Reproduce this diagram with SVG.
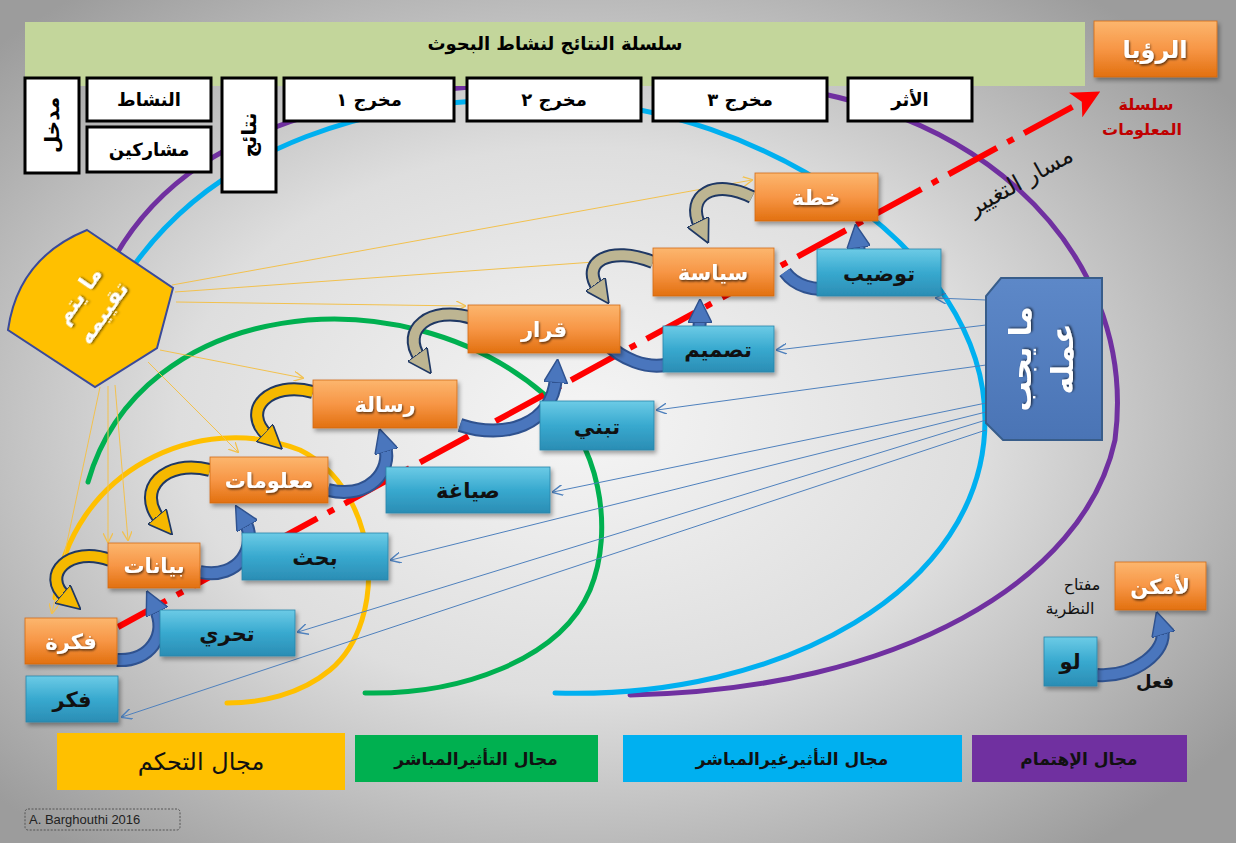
<svg xmlns="http://www.w3.org/2000/svg" width="1236" height="843" viewBox="0 0 1236 843">
<defs>
<radialGradient id="bg" cx="0.47" cy="0.5" r="0.65">
<stop offset="0" stop-color="#f5f5f5"/><stop offset="0.5" stop-color="#dedede"/><stop offset="1" stop-color="#9c9c9c"/>
</radialGradient>
<linearGradient id="og" x1="0" y1="0" x2="0" y2="1">
<stop offset="0" stop-color="#fcb66e"/><stop offset="0.5" stop-color="#f79646"/><stop offset="1" stop-color="#e2700f"/>
</linearGradient>
<linearGradient id="bgr" x1="0" y1="0" x2="0" y2="1">
<stop offset="0" stop-color="#6ccbe6"/><stop offset="0.5" stop-color="#38a9cf"/><stop offset="1" stop-color="#2b8db4"/>
</linearGradient>
<linearGradient id="mg" x1="0" y1="0" x2="0" y2="1">
<stop offset="0" stop-color="#5d88c8"/><stop offset="1" stop-color="#4a74b5"/>
</linearGradient>
<filter id="sh" x="-10%" y="-10%" width="130%" height="140%"><feDropShadow dx="2" dy="3" stdDeviation="2" flood-color="#000" flood-opacity="0.35"/></filter>
<filter id="tsh" x="-10%" y="-20%" width="130%" height="150%"><feDropShadow dx="1" dy="1.5" stdDeviation="1" flood-color="#000" flood-opacity="0.65"/></filter>
<marker id="hb" viewBox="0 0 20 20" markerUnits="userSpaceOnUse" markerWidth="24" markerHeight="24" refX="4" refY="10" orient="auto"><path d="M0,0 L20,10 L0,20 z" fill="#4a76bd" stroke="#2f528f" stroke-width="1.2"/></marker>
<marker id="ht" viewBox="0 0 20 20" markerUnits="userSpaceOnUse" markerWidth="24" markerHeight="24" refX="4" refY="10" orient="auto"><path d="M0,0 L20,10 L0,20 z" fill="#bdb592" stroke="#1f3864" stroke-width="1.4"/></marker>
<marker id="hy" viewBox="0 0 20 20" markerUnits="userSpaceOnUse" markerWidth="24" markerHeight="24" refX="4" refY="10" orient="auto"><path d="M0,0 L20,10 L0,20 z" fill="#f5b800" stroke="#1f3864" stroke-width="1.4"/></marker>
<marker id="hr" viewBox="0 0 20 20" markerUnits="userSpaceOnUse" markerWidth="28" markerHeight="28" refX="6" refY="10" orient="auto"><path d="M0,0 L20,10 L0,20 L5,10 z" fill="#ff0000"/></marker>
<marker id="tb" viewBox="0 0 10 10" markerUnits="userSpaceOnUse" markerWidth="11" markerHeight="11" refX="9" refY="5" orient="auto"><path d="M0,0 L10,5 L0,10" fill="none" stroke="#4f81bd" stroke-width="1.3"/></marker>
<marker id="ty" viewBox="0 0 10 10" markerUnits="userSpaceOnUse" markerWidth="10" markerHeight="10" refX="9" refY="5" orient="auto"><path d="M0,0 L10,5 L0,10" fill="none" stroke="#f2c14e" stroke-width="1.3"/></marker>
</defs>
<style>
.box{fill:#fff;stroke:#000;stroke-width:3}
.ob{fill:url(#og);stroke:#d36b12;stroke-width:0.8;filter:url(#sh)}
.bb{fill:url(#bgr);stroke:#2a86aa;stroke-width:0.8;filter:url(#sh)}
.ot{font-family:"DejaVu Sans","Noto Sans",sans-serif;font-weight:bold;font-size:21px;fill:#fff;text-anchor:middle;filter:url(#tsh)}
.bt{font-family:"DejaVu Sans","Noto Sans",sans-serif;font-weight:bold;font-size:21px;fill:#111;text-anchor:middle}
.hd{font-family:"DejaVu Sans","Noto Sans",sans-serif;font-weight:bold;font-size:18px;fill:#000;text-anchor:middle}
.lg{font-family:"DejaVu Sans","Noto Sans",sans-serif;font-weight:bold;font-size:17px;fill:#111;text-anchor:middle}
.arc{fill:none;stroke-width:5;stroke-linecap:round}
.bo{fill:none;stroke:#2f528f;stroke-width:14}
.bi{fill:none;stroke:#4a76bd;stroke-width:10;marker-end:url(#hb)}
.to{fill:none;stroke:#1f3864;stroke-width:14}
.ti{fill:none;stroke:#bdb592;stroke-width:10;marker-end:url(#ht)}
.yi{fill:none;stroke:#f5b800;stroke-width:10;marker-end:url(#hy)}
.tl{fill:none;stroke:#4f81bd;stroke-width:1;marker-end:url(#tb)}
.yl{fill:none;stroke:#f2c14e;stroke-width:1;marker-end:url(#ty)}
</style>
<rect width="1236" height="843" fill="url(#bg)"/>

<g id="arcs">
<path class="arc" stroke="#7030a0" d="M112,262 C200,100 420,75 700,82 C970,80 1140,250 1115,440 C1085,580 900,690 630,695"/>
<path class="arc" stroke="#00b0f0" d="M132,268 C215,150 370,92 560,100 C760,108 985,250 985,420 C985,590 780,700 555,693"/>
<path class="arc" stroke="#00b050" d="M88,482 C140,300 400,270 545,395 C600,440 615,530 590,590 C560,660 460,695 365,693"/>
<path class="arc" stroke="#ffc000" d="M55,598 C70,470 200,410 300,450 C380,490 390,620 330,670 C300,695 260,703 227,703"/>
</g>

<g id="change-path">
<path d="M118,627 L1083,101" fill="none" stroke="#ff0000" stroke-width="6" stroke-dasharray="55 12 7 12" marker-end="url(#hr)"/>
<text x="1024" y="188" transform="rotate(-29 1024 188)" font-family="DejaVu Sans, sans-serif" font-size="23" fill="#111" text-anchor="middle">مسار التغيير</text>
<text x="1146" y="110" font-family="DejaVu Sans, sans-serif" font-weight="bold" font-size="16" fill="#c00000" text-anchor="middle">سلسلة</text>
<text x="1142" y="135" font-family="DejaVu Sans, sans-serif" font-weight="bold" font-size="16" fill="#c00000" text-anchor="middle">المعلومات</text>
</g>

<g id="connectors">
<path class="tl" d="M986,300 L936,298"/>
<path class="tl" d="M986,325 L777,350"/>
<path class="tl" d="M986,365 L657,410"/>
<path class="tl" d="M986,403 L553,492"/>
<path class="tl" d="M986,412 L391,560"/>
<path class="tl" d="M986,420 L298,632"/>
<path class="tl" d="M986,430 L122,717"/>
<path class="yl" d="M172,285 L752,180"/>
<path class="yl" d="M175,292 L650,258"/>
<path class="yl" d="M176,302 L465,306"/>
<path class="yl" d="M160,350 L303,378"/>
<path class="yl" d="M148,362 L238,452"/>
<path class="yl" d="M115,385 L128,540"/>
<path class="yl" d="M100,387 L52,613"/>
<path class="yl" d="M108,386 L108,542"/>
<path class="bo" d="M117,660 C150,662 168,635 155,608"/><path class="bi" d="M117,660 C150,662 168,635 155,608"/>
<path class="bo" d="M200,572 C240,580 258,545 245,522"/><path class="bi" d="M200,572 C240,580 258,545 245,522"/>
<path class="bo" d="M328,490 C370,500 392,470 385,447"/><path class="bi" d="M328,490 C370,500 392,470 385,447"/>
<path class="bo" d="M460,425 C505,440 552,425 556,378"/><path class="bi" d="M460,425 C505,440 552,425 556,378"/>
<path class="bo" d="M605,342 C640,378 700,375 700,318"/><path class="bi" d="M605,342 C640,378 700,375 700,318"/>
<path class="bo" d="M785,272 C805,300 865,295 858,243"/><path class="bi" d="M785,272 C805,300 865,295 858,243"/>
<path class="bo" d="M1097,675 C1135,678 1168,650 1162,630"/><path class="bi" d="M1097,675 C1135,678 1168,650 1162,630"/>
<path class="to" d="M752,197 C715,178 685,195 700,226"/><path class="ti" d="M752,197 C715,178 685,195 700,226"/>
<path class="to" d="M653,262 C610,245 580,262 598,288"/><path class="ti" d="M653,262 C610,245 580,262 598,288"/>
<path class="to" d="M472,318 C430,305 400,330 420,358"/><path class="ti" d="M472,318 C430,305 400,330 420,358"/>
<path class="to" d="M313,392 C270,380 240,410 268,436"/><path class="yi" d="M313,392 C270,380 240,410 268,436"/>
<path class="to" d="M210,470 C165,458 135,490 160,520"/><path class="yi" d="M210,470 C165,458 135,490 160,520"/>
<path class="to" d="M110,560 C70,545 40,575 66,597"/><path class="yi" d="M110,560 C70,545 40,575 66,597"/>
</g>

<g id="title"><rect x="25" y="22" width="1060" height="64" fill="#c3d69b"/><text class="hd" x="555" y="50">سلسلة النتائج لنشاط البحوث</text></g>
<g id="vision"><rect class="ob" x="1094" y="21" width="123" height="56"/><text class="ot" x="1155" y="58" style="font-size:24px">الرؤيا</text></g>

<g id="input"><rect class="box" x="25" y="78" width="54" height="95"/><text class="hd" x="52" y="132" transform="rotate(-90 52 125)" style="font-size:20px">مدخل</text></g>
<g id="activity"><rect class="box" x="87" y="78" width="124" height="43"/><text class="hd" x="149" y="106">النشاط</text></g>
<g id="participants"><rect class="box" x="87" y="127" width="124" height="45"/><text class="hd" x="149" y="156">مشاركين</text></g>
<g id="results"><rect class="box" x="222" y="78" width="54" height="114"/><text class="hd" x="249" y="142" transform="rotate(-90 249 135)" style="font-size:20px">نتائج</text></g>
<g id="out1"><rect class="box" x="284" y="78" width="170" height="43"/><text class="hd" x="369" y="106">مخرج ١</text></g>
<g id="out2"><rect class="box" x="467" y="78" width="174" height="43"/><text class="hd" x="554" y="106">مخرج ٢</text></g>
<g id="out3"><rect class="box" x="653" y="78" width="174" height="43"/><text class="hd" x="740" y="106">مخرج ٣</text></g>
<g id="impact"><rect class="box" x="848" y="78" width="124" height="43"/><text class="hd" x="910" y="106">الأثر</text></g>

<g id="evaluated">
<path d="M87,230 L173,288 L157,348 L95,387 L8,330 Q18,258 87,230 Z" fill="#ffc000" stroke="#3a4a9a" stroke-width="2"/>
<g transform="rotate(-55 92 305)" font-family="DejaVu Sans, sans-serif" font-weight="bold" font-size="22" fill="#fff" text-anchor="middle" style="filter:url(#tsh)">
<text x="92" y="296">ما يتم</text><text x="92" y="326">تقييمه</text></g>
</g>

<g id="todo">
<path d="M1001,278 L1102,278 L1102,440 L1003,440 L986,423 L986,296 Z" fill="url(#mg)" stroke="#385d8a" stroke-width="2"/>
<g transform="rotate(-90 1044 359)" font-family="DejaVu Sans, sans-serif" font-weight="bold" font-size="30" fill="#fff" text-anchor="middle" style="filter:url(#tsh)">
<text x="1044" y="346">ما يجب</text><text x="1044" y="388">عمله</text></g>
</g>

<g id="n-fikra"><rect class="ob" x="25" y="618" width="92" height="46"/><text class="ot" x="71" y="649">فكرة</text></g>
<g id="n-bayanat"><rect class="ob" x="108" y="543" width="92" height="45"/><text class="ot" x="154" y="573">بيانات</text></g>
<g id="n-maalumat"><rect class="ob" x="210" y="457" width="118" height="46"/><text class="ot" x="269" y="488">معلومات</text></g>
<g id="n-risala"><rect class="ob" x="313" y="380" width="144" height="48"/><text class="ot" x="385" y="412">رسالة</text></g>
<g id="n-qarar"><rect class="ob" x="468" y="305" width="152" height="48"/><text class="ot" x="544" y="337">قرار</text></g>
<g id="n-siyasa"><rect class="ob" x="653" y="248" width="121" height="48"/><text class="ot" x="713" y="280">سياسة</text></g>
<g id="n-khitta"><rect class="ob" x="755" y="173" width="123" height="48"/><text class="ot" x="816" y="205">خطة</text></g>

<g id="n-fikr"><rect class="bb" x="26" y="676" width="92" height="46"/><text class="bt" x="72" y="707">فكر</text></g>
<g id="n-taharri"><rect class="bb" x="160" y="610" width="135" height="46"/><text class="bt" x="227" y="641">تحري</text></g>
<g id="n-bahth"><rect class="bb" x="242" y="533" width="146" height="47"/><text class="bt" x="315" y="565">بحث</text></g>
<g id="n-siyagha"><rect class="bb" x="386" y="467" width="164" height="46"/><text class="bt" x="468" y="498">صياغة</text></g>
<g id="n-tabanni"><rect class="bb" x="540" y="401" width="114" height="49"/><text class="bt" x="597" y="434">تبني</text></g>
<g id="n-tasmim"><rect class="bb" x="663" y="326" width="111" height="46"/><text class="bt" x="718" y="357">تصميم</text></g>
<g id="n-tawdib"><rect class="bb" x="817" y="249" width="124" height="47"/><text class="bt" x="879" y="281">توضيب</text></g>

<g id="key">
<text x="1082" y="590" font-family="DejaVu Sans, sans-serif" font-size="16" fill="#111" text-anchor="middle">مفتاح</text>
<text x="1070" y="614" font-family="DejaVu Sans, sans-serif" font-size="16" fill="#111" text-anchor="middle">النظرية</text>
<text x="1155" y="688" font-family="DejaVu Sans, sans-serif" font-weight="bold" font-size="18" fill="#111" text-anchor="middle">فعل</text>
</g>
<g id="n-law"><rect class="bb" x="1044" y="637" width="53" height="49"/><text class="bt" x="1070" y="669">لو</text></g>
<g id="n-lamkan"><rect class="ob" x="1115" y="562" width="91" height="48"/><text class="ot" x="1160" y="594">لأمكن</text></g>

<g id="legend">
<rect x="57" y="733" width="288" height="57" fill="#ffc000"/><text class="lg" x="201" y="770" style="font-size:24px;font-weight:normal">مجال التحكم</text>
<rect x="355" y="735" width="243" height="47" fill="#00b050"/><text class="lg" x="476" y="765">مجال التأثيرالمباشر</text>
<rect x="623" y="735" width="339" height="47" fill="#00b0f0"/><text class="lg" x="792" y="765">مجال التأثيرغيرالمباشر</text>
<rect x="972" y="735" width="215" height="47" fill="#7030a0"/><text class="lg" x="1079" y="765">مجال الإهتمام</text>
</g>
<g id="credit"><rect x="25" y="809" width="155" height="21" rx="3" fill="none" stroke="#555" stroke-width="1" stroke-dasharray="2 1.5"/><text x="29" y="824" font-family="Liberation Sans, sans-serif" font-size="13" fill="#222">A. Barghouthi 2016</text></g>
</svg>
